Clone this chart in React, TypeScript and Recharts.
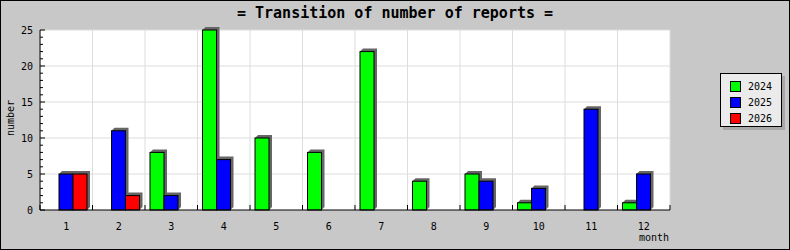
import React from 'react';
import { BarChart, Bar, XAxis, YAxis, CartesianGrid } from 'recharts';

const months = [1, 2, 3, 4, 5, 6, 7, 8, 9, 10, 11, 12];
const reports2024 = [0, 0, 8, 25, 10, 8, 22, 4, 5, 1, 0, 1];
const reports2025 = [5, 11, 2, 7, 0, 0, 0, 0, 4, 3, 14, 5];
const reports2026 = [5, 2, 0, 0, 0, 0, 0, 0, 0, 0, 0, 0];
const seriesNames = ['2024', '2025', '2026'];
const seriesColors = ['#00ff00', '#0000ff', '#ff0000'];
const yTicks = [0, 1, 2, 3, 4, 5, 6, 7, 8, 9, 10, 11, 12, 13, 14, 15, 16, 17, 18, 19, 20, 21, 22, 23, 24, 25];
const yGridValues = [5, 10, 15, 20, 25];
const monthEdges = [0.5, 1.5, 2.5, 3.5, 4.5, 5.5, 6.5, 7.5, 8.5, 9.5, 10.5, 11.5, 12.5];

const data = months.map((m, i) => ({
    month: m,
    y2024: reports2024[i],
    y2025: reports2025[i],
    y2026: reports2026[i],
}));
const seriesKeys = ['y2024', 'y2025', 'y2026'];
const xTicks = [...monthEdges, ...months].sort((a, b) => a - b);

const MONO = '"DejaVu Sans Mono", monospace';

// bar with a dark "3D" shadow up and to the right
const Bar3D = (props: any) => {
    const { x, y, width, height, fill } = props;
    if (!height || height <= 0) return <g />;
    const d = 3;
    const pts = [
        [x, y], [x + d, y - d], [x + width + d, y - d],
        [x + width + d, y + height - d], [x + width, y + height],
    ].map((p) => p.join(',')).join(' ');
    return (
        <g>
            <polygon points={pts} fill="#666666" />
            <rect x={x} y={y} width={width} height={height} fill={fill} stroke="#000" strokeWidth={1} />
        </g>
    );
};

const XTick = (props: any) => {
    const { x, y, payload } = props;
    const v = payload.value;
    if (Number.isInteger(v)) {
        return (
            <text x={x} y={y + 16} textAnchor="middle" dominantBaseline="central"
                style={{ fontFamily: MONO, fontSize: 10, fill: '#000' }}>{v}</text>
        );
    }
    return <line x1={x} x2={x} y1={y} y2={y - 5} stroke="#000" />;
};

const YTick = (props: any) => {
    const { x, y, payload } = props;
    const v = payload.value;
    const major = v % 5 === 0;
    return (
        <g>
            <line x1={x} x2={x + (major ? 5 : 3)} y1={y} y2={y} stroke="#000" />
            {major && (
                <text x={x - 7} y={y} textAnchor="end" dominantBaseline="central"
                    style={{ fontFamily: MONO, fontSize: 10, fill: '#000' }}>{v}</text>
            )}
        </g>
    );
};

export default function App() {
    return (
        <div style={{ position: 'absolute', left: 0, top: 0, width: 790, height: 250, background: '#c8c8c8' }}>
            <BarChart width={790} height={250} data={data} barGap={0} barSize={14}
                margin={{ top: 30, right: 120, left: 0, bottom: 0 }}>
                <CartesianGrid stroke="#dddddd" fill="#ffffff" fillOpacity={1}
                    horizontalValues={yGridValues} verticalValues={monthEdges} />
                <XAxis dataKey="month" type="number" domain={[0.5, 12.5]} ticks={xTicks} interval={0}
                    height={40} tickSize={0} tickMargin={0} tick={<XTick />} axisLine={{ stroke: '#000' }}
                    tickLine={false} allowDataOverflow />
                <YAxis type="number" domain={[0, 25]} ticks={yTicks} interval={0} width={40}
                    tickSize={0} tickMargin={0} tick={<YTick />} axisLine={{ stroke: '#000' }} tickLine={false} />
                {seriesKeys.map((k, i) => (
                    <Bar key={k} dataKey={k} name={seriesNames[i]} fill={seriesColors[i]}
                        shape={<Bar3D />} isAnimationActive={false} />
                ))}
            </BarChart>

            <div style={{ position: 'absolute', left: 0, top: 5, width: 790, textAlign: 'center',
                fontFamily: MONO, fontWeight: 'bold', fontSize: 15, lineHeight: '17px' }}>
                = Transition of number of reports =
            </div>
            <div style={{ position: 'absolute', left: 10, top: 118, fontFamily: MONO, fontSize: 10,
                transform: 'translate(-50%, -50%) rotate(-90deg)', whiteSpace: 'nowrap' }}>
                number
            </div>
            <div style={{ position: 'absolute', right: 121, top: 232, fontFamily: MONO, fontSize: 10,
                lineHeight: '11px' }}>
                month
            </div>

            <div style={{ position: 'absolute', left: 720, top: 73, width: 62, height: 54, boxSizing: 'border-box',
                border: '1px solid #000', background: '#ebebeb', boxShadow: '3px 3px 0 #a8a8a8',
                padding: '4px 0 0 9px' }}>
                {seriesNames.map((n, i) => (
                    <div key={n} style={{ display: 'flex', alignItems: 'center', height: 16 }}>
                        <span style={{ width: 9, height: 9, border: '1px solid #000', background: seriesColors[i],
                            display: 'inline-block' }} />
                        <span style={{ marginLeft: 7, fontFamily: MONO, fontSize: 10 }}>{n}</span>
                    </div>
                ))}
            </div>

            <div style={{ position: 'absolute', left: 0, top: 0, width: 790, height: 250, boxSizing: 'border-box',
                border: '1px solid #000', pointerEvents: 'none' }} />
        </div>
    );
}
